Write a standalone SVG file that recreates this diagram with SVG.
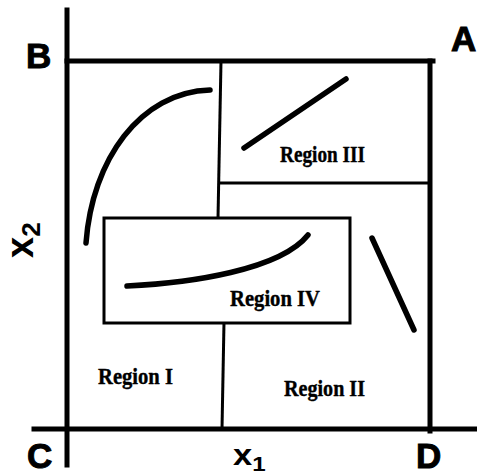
<svg xmlns="http://www.w3.org/2000/svg" width="477" height="476" viewBox="0 0 477 476">
<style>
.axis{stroke:#000;stroke-width:5;fill:none;stroke-linecap:square}
.inner{stroke:#000;stroke-width:3;fill:none}
.curve{stroke:#000;stroke-width:5.5;fill:none;stroke-linecap:round}
.corner{font-family:"Liberation Sans",Arial,sans-serif;font-weight:bold;font-size:35px;fill:#000;stroke:#000;stroke-width:1}
.var{font-family:"Liberation Sans",Arial,sans-serif;font-weight:bold;fill:#000}
.reg{font-family:"Liberation Serif","Times New Roman",serif;font-weight:bold;font-size:24px;fill:#000;stroke:#000;stroke-width:0.4}
</style>
<rect width="477" height="476" fill="#fff"/>
<g id="connectors">
<line class="axis" x1="67" y1="10" x2="67" y2="465"/>
<line class="axis" x1="34" y1="429" x2="477" y2="429"/>
<line class="axis" x1="67" y1="61" x2="433" y2="61"/>
<line class="axis" x1="430" y1="61" x2="430" y2="431"/>
<line class="inner" x1="221" y1="61" x2="218" y2="218"/>
<line class="inner" x1="220" y1="183" x2="430" y2="183"/>
<line class="inner" x1="224" y1="322" x2="222" y2="429"/>
</g>
<g id="regionI">
<path class="curve" d="M86 243 C 92 160, 140 92, 210 90"/>
<text class="reg" x="98" y="384" textLength="75" lengthAdjust="spacingAndGlyphs">Region I</text>
</g>
<g id="regionII">
<line class="curve" x1="372" y1="238" x2="414" y2="330"/>
<text class="reg" x="284" y="396" textLength="81" lengthAdjust="spacingAndGlyphs">Region II</text>
</g>
<g id="regionIII">
<line class="curve" x1="244" y1="148" x2="346" y2="79"/>
<text class="reg" x="280" y="162" textLength="85" lengthAdjust="spacingAndGlyphs">Region III</text>
</g>
<g id="regionIV">
<rect class="inner" x="104" y="218" width="246" height="105"/>
<path class="curve" d="M127 286 C 190 283, 280 270, 308 235"/>
<text class="reg" x="230" y="306" textLength="90" lengthAdjust="spacingAndGlyphs">Region IV</text>
</g>
<g id="labels">
<text class="corner" x="26" y="68">B</text>
<text class="corner" x="451" y="51">A</text>
<text class="corner" x="27" y="468">C</text>
<text class="corner" x="416" y="468">D</text>
<text class="var" x="233" y="465" font-size="30" transform="translate(233 465) scale(1.15 1) translate(-233 -465)">x<tspan font-size="21" dy="6">1</tspan></text>
<text class="var" transform="translate(33 258) rotate(-90)" x="0" y="0" font-size="38">x<tspan font-size="26" dy="7">2</tspan></text>
</g>
</svg>
